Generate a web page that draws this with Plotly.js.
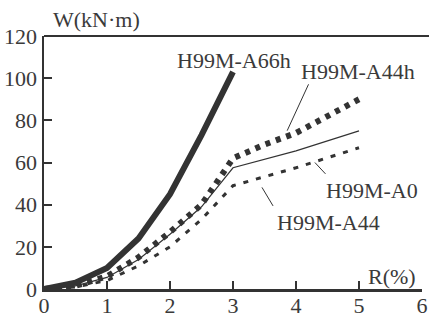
<!DOCTYPE html>
<html>
<head>
<meta charset="utf-8">
<script src="https://cdn.plot.ly/plotly-3.0.1.min.js"></script>
<style>html,body{margin:0;padding:0;background:#fff;}#chart{width:429px;height:321px;}</style>
</head>
<body>
<div id="chart"></div>
<script>
// Data
const R_A66h = [0, 0.5, 1, 1.5, 2, 2.5, 3];
const W_A66h = [0, 3, 10, 24, 45, 73, 103];

const R_A44h = [0, 0.5, 1, 1.5, 2, 2.5, 3, 3.5, 4, 4.5, 5];
const W_A44h = [0, 1.5, 6, 15, 27, 40, 62, 68.5, 74, 82, 90];

const R_A0 = [0, 0.5, 1, 1.5, 2, 2.5, 3, 4, 5];
const W_A0 = [0, 1.5, 5.5, 14, 26, 39, 57.5, 65.5, 75];

const R_A44 = [0, 0.5, 1, 1.5, 2, 2.5, 3, 4, 5];
const W_A44 = [0, 1, 4, 11, 20, 33, 49, 57.5, 67];

const xTicks = [0, 1, 2, 3, 4, 5, 6];
const yTicks = [0, 20, 40, 60, 80, 100, 120];

const ink = '#333333';
const fontFam = 'Liberation Serif';

const traces = [
  {x: R_A0, y: W_A0, mode: 'lines', line: {color: ink, width: 1.2}, name: 'H99M-A0'},
  {x: R_A44, y: W_A44, mode: 'lines', line: {color: ink, width: 3, dash: '5px,8px'}, name: 'H99M-A44'},
  {x: R_A44h, y: W_A44h, mode: 'lines', line: {color: ink, width: 6, dash: '5px,6px'}, name: 'H99M-A44h'},
  {x: R_A66h, y: W_A66h, mode: 'lines', line: {color: ink, width: 6}, name: 'H99M-A66h'}
];

const tf = {family: fontFam, size: 22, color: '#3a3a3a'};
const lf = {family: fontFam, size: 22, color: '#3a3a3a'};

const layout = {
  width: 429, height: 321,
  margin: {l: 44, r: 7, t: 36, b: 32},
  paper_bgcolor: '#ffffff', plot_bgcolor: '#ffffff',
  showlegend: false,
  font: tf,
  xaxis: {
    range: [0, 6], tickvals: xTicks, ticktext: xTicks.map(String),
    ticks: 'inside', ticklen: 8, tickwidth: 2, tickcolor: ink,
    ticklabelstandoff: -5,
    showline: true, linecolor: ink, linewidth: 2.5,
    showgrid: false, zeroline: false, tickfont: tf, fixedrange: true
  },
  yaxis: {
    range: [0, 120], tickvals: yTicks, ticktext: yTicks.map(String),
    ticks: 'inside', ticklen: 8, tickwidth: 2, tickcolor: ink,
    showline: true, linecolor: ink, linewidth: 2.5,
    showgrid: false, zeroline: false, tickfont: tf, fixedrange: true
  },
  shapes: [
    {type: 'line', xref: 'paper', yref: 'paper', x0: 0, x1: 1.02, y0: 1, y1: 1, line: {color: ink, width: 2}}
  ],
  annotations: [
    {text: 'W(kN\u00b7m)', xref: 'paper', yref: 'paper', x: 0.1376, y: 1.066, showarrow: false, font: lf, xanchor: 'center', yanchor: 'middle'},
    {text: 'R(%)', xref: 'x', yref: 'y', x: 5.53, y: 5.7, showarrow: false, font: lf, xanchor: 'center', yanchor: 'middle'},
    {text: 'H99M-A66h', xref: 'x', yref: 'y', x: 3.01, y: 108.6, showarrow: false, font: lf, xanchor: 'center', yanchor: 'middle'},
    {text: 'H99M-A44h', xref: 'x', yref: 'y', x: 4.98, y: 103.4, showarrow: false, font: lf, xanchor: 'center', yanchor: 'middle'},
    {text: 'H99M-A0', xref: 'x', yref: 'y', x: 5.21, y: 46.8, showarrow: false, font: lf, xanchor: 'center', yanchor: 'middle'},
    {text: 'H99M-A44', xref: 'x', yref: 'y', x: 4.51, y: 31.6, showarrow: false, font: lf, xanchor: 'center', yanchor: 'middle'},
    {text: '', xref: 'x', yref: 'y', axref: 'x', ayref: 'y', x: 3.86, y: 75.1, ax: 4.21, ay: 97.8, showarrow: true, arrowhead: 0, arrowwidth: 1, arrowcolor: ink},
    {text: '', xref: 'x', yref: 'y', axref: 'x', ayref: 'y', x: 4.30, y: 60, ax: 4.49, ay: 53.9, showarrow: true, arrowhead: 0, arrowwidth: 1, arrowcolor: ink},
    {text: '', xref: 'x', yref: 'y', axref: 'x', ayref: 'y', x: 3.46, y: 48.2, ax: 3.65, ay: 38.7, showarrow: true, arrowhead: 0, arrowwidth: 1, arrowcolor: ink}
  ]
};

Plotly.newPlot('chart', traces, layout, {staticPlot: true, displayModeBar: false});
</script>
</body>
</html>
